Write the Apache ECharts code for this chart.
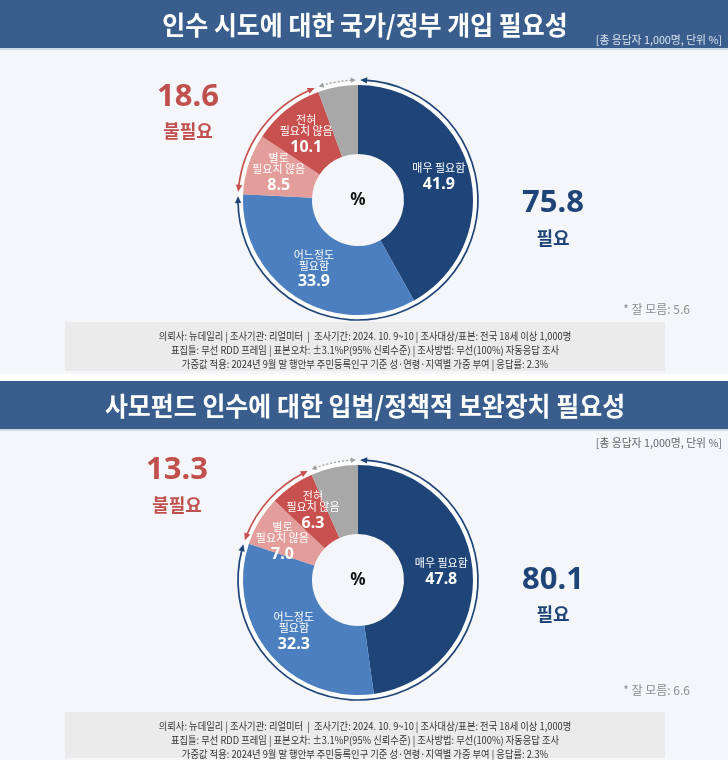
<!DOCTYPE html>
<html><head><meta charset="utf-8">
<script src="https://cdn.jsdelivr.net/npm/echarts@6/dist/echarts.min.js"></script>
<style>html,body{margin:0;padding:0;background:#f4f6f9}#c{width:728px;height:760px}</style>
</head><body><div id="c"></div>
<script>
// ---------- data ----------
const TITLES = ['인수 시도에 대한 국가/정부 개입 필요성', '사모펀드 인수에 대한 입법/정책적 보완장치 필요성'];
const UNIT_NOTE = '[총 응답자 1,000명, 단위 %]';
const CATEGORIES = ['매우 필요함', '어느정도\n필요함', '별로\n필요치 않음', '전혀\n필요치 않음', '잘 모름'];
const VALUES_STATE = [41.9, 33.9, 8.5, 10.1, 5.6];
const VALUES_PE = [47.8, 32.3, 7.0, 6.3, 6.6];
const GROUP_NAMES = ['필요', '불필요'];
const CENTER_LABEL = '%';
const SURVEY_NOTES = [
  '의뢰사: 뉴데일리 | 조사기관: 리얼미터  |  조사기간: 2024. 10. 9~10 | 조사대상/표본: 전국 18세 이상 1,000명',
  '표집틀: 무선 RDD 프레임 | 표본오차: ±3.1%P(95% 신뢰수준) | 조사방법: 무선(100%) 자동응답 조사',
  '가중값 적용: 2024년 9월 말 행안부 주민등록인구 기준 성·연령·지역별 가중 부여 | 응답률: 2.3%'
];

// ---------- styles / layout ----------
const KR = '"Noto Sans CJK KR", "Noto Sans", sans-serif';
const NUMF = '"Noto Sans", "Noto Sans CJK KR", sans-serif';
const SLICE_COLORS = ['#1e4478', '#4c7fbf', '#e39d9b', '#c8504e', '#a8a8a8'];
const ARC_COLORS = ['#1e4478', '#c8504e', '#a0a0a0'];
const RED = '#c0504d', NAVY = '#1f4477';
const PANELS = [
  {values: VALUES_STATE, barY: 0, titleY: 25, unitY: 40, unitFill: '#dbe3ee', cx: 358, cy: 200,
   redX: 188, redY: 97, redLY: 131, blueY: 203, blueLY: 238, dkY: 309, boxY: 322, boxH: 49,
   nudge: [[0, 0], [0, 0], [0, 0], [0, 2], [0, 0]]},
  {values: VALUES_PE, barY: 381, titleY: 406, unitY: 443, unitFill: '#666666', cx: 358, cy: 580,
   redX: 177, redY: 470, redLY: 505, blueY: 580, blueLY: 614, dkY: 690, boxY: 712, boxH: 46,
   nudge: [[0, 0], [0, 0], [-4, 6], [3, 1], [0, 0]]}
];

function sum(a) { return a.reduce((s, v) => s + v, 0); }

function txt(x, y, text, o) {
  return {
    type: 'text', x: x, y: y, z: 100, scaleX: o.scaleX || 1,
    style: {
      text: text, fill: o.fill, fontSize: o.size, fontWeight: o.weight || 'normal',
      fontFamily: o.family || KR,
      align: o.align || 'center', verticalAlign: 'middle',
      textAlign: o.align || 'center', textVerticalAlign: 'middle'
    }
  };
}

function arcRender(cx, cy) {
  return function (params, api) {
    const s = api.value(0), e = api.value(1), k = api.value(2);
    const R = 120;
    const toPhi = p => p / 100 * Math.PI * 2 - Math.PI / 2;
    const gap = 0.018;
    const phiS = toPhi(s) + gap, phiE = toPhi(e) - gap;
    const col = ARC_COLORS[k];
    const dashed = k === 2;
    const aL = dashed ? 5 : 7, aW = dashed ? 2.6 : 3.2;
    const d = aL / R;
    const pt = (r, phi) => [cx + r * Math.cos(phi), cy + r * Math.sin(phi)];
    const arrow = (phi, dir) => ({
      type: 'polygon',
      shape: {points: [pt(R, phi), pt(R + aW, phi - dir * d), pt(R - aW, phi - dir * d)]},
      style: {fill: col}
    });
    const children = [];
    if (params.dataIndex === 0) {
      children.push({type: 'circle', shape: {cx: cx, cy: cy, r: 117}, style: {fill: 'none', stroke: '#ffffff', lineWidth: 4}});
    }
    children.push({
      type: 'arc',
      shape: {cx: cx, cy: cy, r: R, startAngle: phiS + d * 0.7, endAngle: phiE - d * 0.7, clockwise: true},
      style: {fill: 'none', stroke: col, lineWidth: dashed ? 1.3 : 1.7, lineDash: dashed ? [2, 2] : null}
    });
    children.push(arrow(phiS, -1), arrow(phiE, 1));
    return {type: 'group', children: children};
  };
}

const series = [];
const graphics = [];

PANELS.forEach((P, pi) => {
  const v = P.values;
  const need = v[0] + v[1];
  const notNeed = v[2] + v[3];
  const total = sum(v);

  // title bar
  graphics.push({type: 'rect', z: 1, shape: {x: 0, y: P.barY, width: 728, height: 48}, style: {fill: '#395e8d'}});
  graphics.push({type: 'rect', z: 1, shape: {x: 0, y: P.barY + 48, width: 728, height: 2}, style: {fill: '#cfd9e6'}});
  graphics.push(txt(365, P.titleY, TITLES[pi], {fill: '#ffffff', size: 26, weight: 'bold', scaleX: 0.96}));
  graphics.push(txt(722, P.unitY, UNIT_NOTE, {fill: P.unitFill, size: 11, align: 'right', scaleX: 0.98}));

  // totals
  graphics.push(txt(P.redX, P.redY, notNeed.toFixed(1), {fill: RED, size: 31, weight: 'bold', family: NUMF}));
  graphics.push(txt(P.redX, P.redLY, GROUP_NAMES[1], {fill: RED, size: 18, weight: 'bold'}));
  graphics.push(txt(553, P.blueY, need.toFixed(1), {fill: NAVY, size: 31, weight: 'bold', family: NUMF}));
  graphics.push(txt(553, P.blueLY, GROUP_NAMES[0], {fill: NAVY, size: 18, weight: 'bold'}));
  graphics.push(txt(690, P.dkY, '* ' + CATEGORIES[4] + ': ' + v[4].toFixed(1), {fill: '#8c8c8c', size: 12, align: 'right'}));
  graphics.push(txt(P.cx, P.cy, CENTER_LABEL, {fill: '#111111', size: 17, weight: 'bold', family: NUMF}));

  // survey note box
  graphics.push({type: 'rect', z: 1, shape: {x: 65, y: P.boxY, width: 600, height: P.boxH}, style: {fill: '#ebebeb'}});
  SURVEY_NOTES.forEach((line, li) => {
    graphics.push(txt(365, P.boxY + 14 + li * 14, line, {fill: '#333333', size: 10, scaleX: 0.93}));
  });

  series.push({
    type: 'pie', silent: true, animation: false,
    center: [P.cx, P.cy], radius: [46, 115], startAngle: 90, clockwise: true,
    emphasis: {disabled: true},
    labelLine: {show: false},
    labelLayout: {hideOverlap: false},
    avoidLabelOverlap: false,
    label: {
      show: true, position: 'inside',
      formatter: p => '{n|' + p.name + '}\n{v|' + p.value.toFixed(1) + '}',
      rich: {
        n: {fontSize: 11, color: '#ffffff', lineHeight: 11, fontFamily: KR},
        v: {fontSize: 16, color: '#ffffff', fontWeight: 'bold', lineHeight: 22, fontFamily: NUMF}
      }
    },
    data: v.map((val, i) => ({
      name: CATEGORIES[i], value: val,
      itemStyle: {color: SLICE_COLORS[i]},
      label: {show: i < 4, offset: P.nudge[i]}
    }))
  });

  series.push({
    type: 'custom', coordinateSystem: 'none', silent: true, animation: false,
    renderItem: arcRender(P.cx, P.cy),
    data: [[0, need, 0], [need, need + notNeed, 1], [need + notNeed, total, 2]]
  });
});

// white gap between panels
graphics.push({type: 'rect', z: 1, shape: {x: 0, y: 374, width: 728, height: 7}, style: {fill: '#ffffff'}});

const chart = echarts.init(document.getElementById('c'), null, {renderer: 'canvas'});
chart.setOption({
  backgroundColor: '#f4f6f9',
  animation: false,
  graphic: {elements: graphics},
  series: series
});
</script>
</body></html>
